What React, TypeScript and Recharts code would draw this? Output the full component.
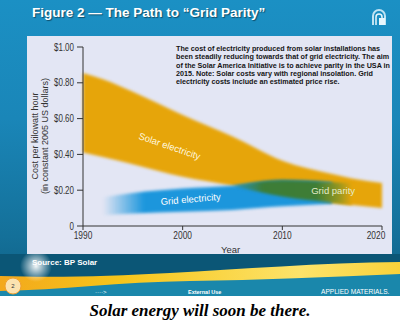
import React from 'react';
import { ComposedChart, Area, XAxis, YAxis, ReferenceDot } from 'recharts';

// values (cost in $/kWh)
const years = [1990, 1992, 1995, 2000, 2005, 2010, 2015, 2017, 2020];
const solarHigh = [0.855, 0.82, 0.75, 0.62, 0.5, 0.365, 0.29, 0.265, 0.24];
const solarLow = [0.41, 0.385, 0.345, 0.275, 0.225, 0.165, 0.13, 0.117, 0.1];
const gridHigh = [null, 0.16, 0.185, 0.21, 0.225, 0.255, 0.245, null, null];
const gridLow = [null, 0.06, 0.07, 0.08, 0.09, 0.11, 0.125, null, null];
const parityHigh = [null, null, null, null, 0.225, 0.255, 0.245, 0.24, null];
const parityLow = [null, null, null, null, 0.225, 0.165, 0.13, 0.117, null];

const xTicks = [1990, 2000, 2010, 2020];
const yTicks = [0, 0.2, 0.4, 0.6, 0.8, 1.0];
const yTickLabels = ['0', '$0.20', '$0.40', '$0.60', '$0.80', '$1.00'];

const noteLines = [
  'The cost of electricity produced from solar installations has',
  'been steadily reducing towards that of grid electricity. The aim',
  'of the Solar America Initiative is to achieve parity in the USA in',
  '2015. Note: Solar costs vary with regional insolation. Grid',
  'electricity costs include an estimated price rise.',
];

const bandLabels = [
  { text: 'Solar electricity', year: 1998.7, value: 0.447, angle: 19, color: '#fff6dc' },
  { text: 'Grid electricity', year: 2000.8, value: 0.151, angle: -5, color: '#ffffff' },
  { text: 'Grid parity', year: 2015.1, value: 0.201, angle: 0, color: '#e4ecc8' },
];

const pair = (lo: (number | null)[], hi: (number | null)[], i: number) =>
  hi[i] == null || lo[i] == null ? null : [lo[i], hi[i]];

const data = years.map((year, i) => ({
  year,
  solar: pair(solarLow, solarHigh, i),
  grid: pair(gridLow, gridHigh, i),
  parity: pair(parityLow, parityHigh, i),
}));

const SANS = '"Liberation Sans", Arial, sans-serif';

// the slide uses a condensed face, so squeeze the tick text a bit
const XTick = ({ x, y, payload }: any) => (
  <text transform={`translate(${x},${y}) scale(0.84,1)`} textAnchor="middle" dy="0.71em" fill="#333" fontSize={10} fontFamily={SANS}>
    {payload.value}
  </text>
);

const YTick = ({ x, y, payload }: any) => (
  <text transform={`translate(${x},${y}) scale(0.8,1)`} textAnchor="end" dy="0.355em" fill="#333" fontSize={10} fontFamily={SANS}>
    {yTickLabels[yTicks.indexOf(payload.value)]}
  </text>
);

const BandText = ({ cx, cy, text, angle, color }: any) => (
  <text
    x={cx}
    y={cy}
    textAnchor="middle"
    dominantBaseline="central"
    transform={`rotate(${angle} ${cx} ${cy})`}
    fill={color}
    fontFamily={SANS}
    fontSize={9.5}
  >
    {text}
  </text>
);

const Logo = () => (
  <svg width={16} height={18} style={{ position: 'absolute', left: 371, top: 8 }}>
    <path d="M2,17 L2,8 A6,6 0 0 1 14,8 L14,17" fill="none" stroke="#bfe3f3" strokeWidth={2} />
    <path d="M5,17 L5,9 A3,3 0 0 1 11,9 L11,17" fill="none" stroke="#e8f6fc" strokeWidth={1.5} />
    <rect x={8} y={10} width={6} height={7} fill="#e8f6fc" />
  </svg>
);

const Footer = () => (
  <svg width={400} height={42} style={{ position: 'absolute', left: 0, top: 254 }}>
    <defs>
      <linearGradient id="swoosh" x1="0" x2="1" y1="0" y2="0">
        <stop offset="0%" stopColor="#f3a81c" />
        <stop offset="30%" stopColor="#f6c51a" />
        <stop offset="75%" stopColor="#fde36a" />
        <stop offset="100%" stopColor="#f9d23a" />
      </linearGradient>
      <radialGradient id="flare">
        <stop offset="0%" stopColor="#ffffff" stopOpacity={0.95} />
        <stop offset="100%" stopColor="#ffffff" stopOpacity={0} />
      </radialGradient>
    </defs>
    <rect x={0} y={0} width={400} height={42} fill="#0b5676" />
    <path d="M0,30 C120,28 220,22 400,18 L400,42 L0,42 Z" fill="#1a87ab" />
    <path
      d="M0,22 C60,24 110,22 170,19 C240,15 320,9 400,8 L400,20 C330,23 260,26 190,27 C120,28 60,36 0,37 Z"
      fill="url(#swoosh)"
    />
    <circle cx={36} cy={12} r={16} fill="url(#flare)" />
    <circle cx={13} cy={32} r={8} fill="#fbe2b0" stroke="#f0a030" strokeWidth={1} />
    <text x={13} y={34} textAnchor="middle" fontSize={6} fontFamily={SANS} fill="#333">2</text>
    <text x={95} y={40} fontSize={6} fontFamily={SANS} fill="#ffffff">····&gt;</text>
    <text x={188} y={40} fontSize={5.5} fontWeight="bold" fontFamily={SANS} fill="#ffffff">External Use</text>
    <text x={321} y={40} fontSize={6.6} fontFamily={SANS} fill="#ffffff">APPLIED MATERIALS.</text>
  </svg>
);

export default function App() {
  return (
    <div style={{ position: 'fixed', left: 0, top: 0, width: 400, height: 325, background: '#ffffff', overflow: 'hidden' }}>
      <style>{`.recharts-area-area { filter: blur(1.6px); }`}</style>
      <div
        style={{
          position: 'absolute', left: 0, top: 0, width: 400, height: 296,
          background: 'linear-gradient(180deg, #1b90c4 0%, #1a86b8 40%, #147099 80%, #0e5f82 100%)',
        }}
      />
      <div
        style={{
          position: 'absolute', left: 32, top: 5, color: '#fff', fontFamily: SANS, fontWeight: 'bold',
          fontSize: 13.5, textShadow: '1px 1px 1px rgba(0,0,0,0.45)', whiteSpace: 'nowrap',
        }}
      >
        Figure 2 — The Path to “Grid Parity”
      </div>
      <Logo />
      <div style={{ position: 'absolute', left: 27, top: 36, width: 365, height: 218, background: '#e3e6f4' }} />
      <Footer />
      <div style={{ position: 'absolute', left: 32, top: 258, color: '#fff', fontFamily: SANS, fontWeight: 'bold', fontSize: 8 }}>
        Source: BP Solar
      </div>

      <div style={{ position: 'absolute', left: 27, top: 36 }}>
        <ComposedChart width={365} height={218} data={data} margin={{ top: 11, right: 10, left: 0, bottom: 0 }}>
          <defs>
            <linearGradient id="gridFill" x1="0" x2="1" y1="0" y2="0">
              <stop offset="0%" stopColor="#1c96dc" stopOpacity={0} />
              <stop offset="18%" stopColor="#1c96dc" stopOpacity={1} />
              <stop offset="100%" stopColor="#1c96dc" stopOpacity={1} />
            </linearGradient>
            <linearGradient id="parityFill" x1="0" x2="1" y1="0" y2="0">
              <stop offset="0%" stopColor="#2f8fa0" stopOpacity={0.6} />
              <stop offset="25%" stopColor="#3c7d37" />
              <stop offset="70%" stopColor="#3e7d35" />
              <stop offset="88%" stopColor="#8f9522" />
              <stop offset="100%" stopColor="#e6a50a" />
            </linearGradient>
          </defs>
          <XAxis
            type="number"
            dataKey="year"
            domain={[1990, 2020]}
            ticks={xTicks}
            height={28}
            tickSize={4}
            tickMargin={2}
            stroke="#333"
            tick={<XTick />}
          />
          <YAxis
            type="number"
            domain={[0, 1]}
            ticks={yTicks}
            width={56}
            tickSize={6}
            tickMargin={3}
            stroke="#333"
            tick={<YTick />}
          />
          <Area dataKey="solar" type="monotone" fill="#e6a50a" fillOpacity={1} stroke="none" isAnimationActive={false} />
          <Area dataKey="grid" type="monotone" fill="url(#gridFill)" fillOpacity={1} stroke="none" isAnimationActive={false} />
          <Area dataKey="parity" type="monotone" fill="url(#parityFill)" fillOpacity={1} stroke="none" isAnimationActive={false} />
          {bandLabels.map((b) => (
            <ReferenceDot
              key={b.text}
              x={b.year}
              y={b.value}
              r={0}
              shape={(p: any) => <BandText {...p} text={b.text} angle={b.angle} color={b.color} />}
            />
          ))}
        </ComposedChart>
      </div>

      <div style={{ position: 'absolute', left: 176, top: 45, fontFamily: SANS, fontWeight: 'bold', fontSize: 7.2, lineHeight: '8.3px', color: '#151515' }}>
        {noteLines.map((l) => (
          <div key={l} style={{ whiteSpace: 'nowrap' }}>{l}</div>
        ))}
      </div>

      <div style={{ position: 'absolute', left: 40, top: 136, width: 0, height: 0 }}>
        <div style={{ position: 'absolute', transform: 'translate(-50%,-50%) rotate(-90deg)', whiteSpace: 'nowrap', fontFamily: SANS, fontSize: 9, color: '#333', textAlign: 'center', lineHeight: '10px' }}>
          Cost per kilowatt hour
          <br />
          (in constant 2005 US dollars)
        </div>
      </div>
      <div style={{ position: 'absolute', left: 221, top: 244, fontFamily: SANS, fontSize: 9.5, color: '#333' }}>Year</div>

      <div
        style={{
          position: 'absolute', left: 0, top: 301, width: 400, textAlign: 'center',
          fontFamily: '"Liberation Serif", "Times New Roman", serif', fontStyle: 'italic', fontWeight: 'bold', fontSize: 17, color: '#000',
        }}
      >
        Solar energy will soon be there.
      </div>
    </div>
  );
}
